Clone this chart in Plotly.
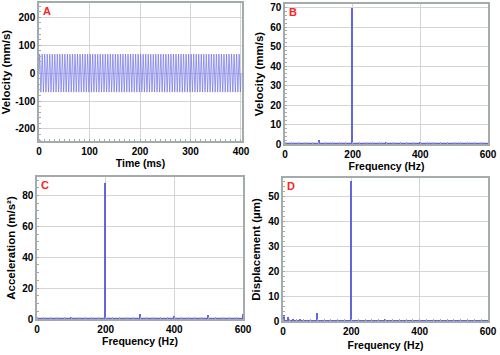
import plotly.graph_objects as go

# ---------------- data ----------------
# Panel A: time signal (200 Hz, period 5 ms) over 0-400 ms
period_ms = 5.0
n_cycles = 80
cycle_shape = [0, 48, 68, 48, 0, -48, -68, -48]   # one cycle, mm/s

# Panel B: velocity spectrum
freq_B = [100, 200, 300, 400, 500]
amp_B = [2.3, 70, 1.2, 0.6, 0.4]
floor_B = 0.3

# Panel C: acceleration spectrum
freq_C = [100, 200, 300, 400, 500, 600]
amp_C = [1.5, 88, 3.0, 2.0, 2.5, 3.0]
floor_C = 0.4

# Panel D: displacement spectrum
freq_D = [3, 15, 30, 50, 100, 200, 300, 400, 500]
amp_D = [2.5, 1.8, 0.6, 0.5, 3.4, 56, 0.5, 0.4, 0.3]
floor_D = 0.2

x_ticks_A = [0, 100, 200, 300, 400]
y_ticks_A = [-200, -100, 0, 100, 200]
x_ticks_f = [0, 200, 400, 600]

# --------------- build ---------------
LINE = "#6464dc"
LINE_A = "#7070e6"
FRAME = "#a4abab"
GRID = "#d4d4d4"
FONT = "Liberation Sans"

step = period_ms / len(cycle_shape)
t_vals = []
v_vals = []
for c in range(n_cycles):
    for k, v in enumerate(cycle_shape):
        t_vals.append(c * period_ms + k * step)
        v_vals.append(v)
t_vals.append(n_cycles * period_ms)
v_vals.append(cycle_shape[0])

fig = go.Figure()

fig.add_trace(go.Scatter(x=t_vals, y=v_vals, mode="lines",
                         line=dict(color=LINE_A, width=0.7),
                         xaxis="x", yaxis="y", showlegend=False))

def add_spectrum(freqs, amps, floor, xa, ya):
    fig.add_trace(go.Scatter(x=[0, 600], y=[floor, floor], mode="lines",
                             line=dict(color=LINE, width=1.2),
                             xaxis=xa, yaxis=ya, showlegend=False))
    fig.add_trace(go.Bar(x=freqs, y=amps, width=4, marker=dict(color=LINE, line=dict(width=0)),
                         xaxis=xa, yaxis=ya, showlegend=False))

add_spectrum(freq_B, amp_B, floor_B, "x2", "y2")
add_spectrum(freq_C, amp_C, floor_C, "x3", "y3")
add_spectrum(freq_D, amp_D, floor_D, "x4", "y4")

W, H = 500, 355

def xdom(a, b):
    return [a / W, b / W]

def ydom(top, bottom):
    return [1 - bottom / H, 1 - top / H]

tickfont = dict(family=FONT, size=10, color="black", weight="bold")

def axis(domain, rng, tickvals, title, anchor, dtick_minor, standoff, tsize):
    return dict(domain=domain, range=rng, tickvals=tickvals, ticktext=[str(v) for v in tickvals],
                showline=True, linecolor=FRAME, linewidth=1.5, mirror=True,
                showgrid=True, gridcolor=GRID, gridwidth=1, zeroline=False,
                ticks="", tickfont=tickfont, anchor=anchor, automargin=False,
                title=dict(text=title, font=dict(family=FONT, size=tsize, color="black", weight="bold"),
                           standoff=standoff),
                minor=dict(dtick=dtick_minor, ticks="inside", ticklen=2, tickcolor=FRAME, showgrid=False))

layout = dict(
    width=W, height=H, margin=dict(l=0, r=0, t=0, b=0, autoexpand=False),
    paper_bgcolor="white", plot_bgcolor="white",
    bargap=0,
    xaxis=axis(xdom(39, 242), [0, 402], x_ticks_A, "Time (ms)", "y", 10, 3, 10.5),
    yaxis=axis(ydom(3, 141), [-243, 251], y_ticks_A, "Velocity (mm/s)", "x", 20, 2, 11.5),
    xaxis2=axis(xdom(285, 488), [0, 600], x_ticks_f, "Frequency (Hz)", "y2", 20, 4, 10.5),
    yaxis2=axis(ydom(4, 144), [0, 71.8], [0, 10, 20, 30, 40, 50, 60, 70], "Velocity (mm/s)", "x2", 2, 4, 11.5),
    xaxis3=axis(xdom(37, 243), [0, 600], x_ticks_f, "Frequency (Hz)", "y3", 20, 4, 10.5),
    yaxis3=axis(ydom(177, 319), [0, 92], [0, 20, 40, 60, 80], "Acceleration (m/s²)", "x3", 5, 4, 11.5),
    xaxis4=axis(xdom(283, 488), [0, 600], x_ticks_f, "Frequency (Hz)", "y4", 20, 6, 10.5),
    yaxis4=axis(ydom(178, 321), [0, 57.2], [0, 10, 20, 30, 40, 50], "Displacement (µm)", "x4", 2, 5, 11.5),
)
fig.update_layout(**layout)

letters = [("A", "x", "y"), ("B", "x2", "y2"), ("C", "x3", "y3"), ("D", "x4", "y4")]
for txt, xa, ya in letters:
    fig.add_annotation(text=txt, xref=f"{xa} domain", yref=f"{ya} domain", x=0.01, y=1.0,
                       xanchor="left", yanchor="top", showarrow=False,
                       font=dict(family=FONT, size=11, color="#ff2222", weight="bold"))

fig.write_html("out.html", config={"displayModeBar": False},
               post_script="document.body.style.margin='0';document.body.style.overflow='hidden';")
